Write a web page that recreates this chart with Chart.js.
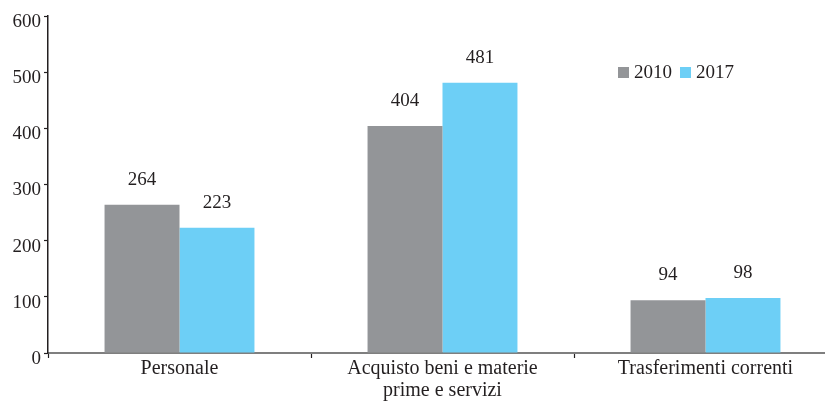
<!DOCTYPE html>
<html>
<head>
<meta charset="utf-8">
<script src="https://cdn.jsdelivr.net/npm/chart.js@4.4.1/dist/chart.umd.min.js"></script>
<style>
  html, body { margin: 0; padding: 0; background: #fff; overflow: hidden; }
  #wrap { width: 840px; height: 401px; position: relative; }
</style>
</head>
<body>
<div id="wrap"><canvas id="spesaChart"></canvas></div>
<script>
const categories = ['Personale', ['Acquisto beni e materie', 'prime e servizi'], 'Trasferimenti correnti'];
const seriesNames = ['2010', '2017'];
const values2010 = [264, 404, 94];
const values2017 = [223, 481, 98];
const yTicks = [0, 100, 200, 300, 400, 500, 600];

const textColor = '#231f20';
const fontFamily = '"Liberation Serif", "Times New Roman", serif';

// value printed over every bar
const barValues = {
    id: 'barValues',
    afterDatasetsDraw(chart) {
        const ctx = chart.ctx;
        ctx.save();
        ctx.font = '19px ' + fontFamily;
        ctx.fillStyle = textColor;
        ctx.textAlign = 'center';
        ctx.textBaseline = 'alphabetic';
        chart.data.datasets.forEach((ds, i) => {
            chart.getDatasetMeta(i).data.forEach((bar, j) => {
                ctx.fillText(String(ds.data[j]), bar.x, bar.y - 20);
            });
        });
        ctx.restore();
    }
};

// y labels sit a little below their tick marks
const yLabels = {
    id: 'yLabels',
    afterDraw(chart) {
        const ctx = chart.ctx;
        const y = chart.scales.y;
        ctx.save();
        ctx.font = '19px ' + fontFamily;
        ctx.fillStyle = textColor;
        ctx.textAlign = 'right';
        ctx.textBaseline = 'middle';
        y.ticks.forEach(t => {
            ctx.fillText(String(t.value), y.right - 7, y.getPixelForValue(t.value) + 6);
        });
        ctx.restore();
    }
};

// small legend sitting inside the plot, upper right
const innerLegend = {
    id: 'innerLegend',
    afterDraw(chart) {
        const ctx = chart.ctx;
        ctx.save();
        ctx.font = '19px ' + fontFamily;
        ctx.textBaseline = 'middle';
        ctx.textAlign = 'left';
        let x = 618;
        const y = 73;
        chart.data.datasets.forEach(ds => {
            ctx.fillStyle = ds.backgroundColor;
            ctx.fillRect(x, y - 6, 11, 11);
            ctx.fillStyle = textColor;
            ctx.fillText(ds.label, x + 16, y);
            x += 16 + ctx.measureText(ds.label).width + 8;
        });
        ctx.restore();
    }
};

new Chart(document.getElementById('spesaChart'), {
    type: 'bar',
    data: {
        labels: categories,
        datasets: [
            { label: seriesNames[0], data: values2010, backgroundColor: '#939598' },
            { label: seriesNames[1], data: values2017, backgroundColor: '#6dcff6' }
        ]
    },
    options: {
        responsive: true,
        maintainAspectRatio: false,
        animation: false,
        layout: { padding: { top: 16, right: 3, left: 0, bottom: 0 } },
        datasets: {
            bar: { barPercentage: 1, categoryPercentage: 0.57, borderWidth: 0 }
        },
        scales: {
            x: {
                grid: {
                    drawOnChartArea: false,
                    drawTicks: true,
                    tickLength: 5,
                    tickColor: '#231f20',
                    tickWidth: 1.2
                },
                border: { color: '#7f7f7f', width: 2 },
                ticks: {
                    color: textColor,
                    padding: 0,
                    maxRotation: 0,
                    autoSkip: false,
                    font: { family: fontFamily, size: 20, lineHeight: 1.1 }
                },
                afterFit(scale) { scale.height = 48; }
            },
            y: {
                min: 0,
                max: 600,
                afterBuildTicks(scale) { scale.ticks = yTicks.map(v => ({ value: v })); },
                grid: {
                    drawOnChartArea: false,
                    drawTicks: true,
                    tickLength: 4,
                    tickColor: '#231f20',
                    tickWidth: 1.2
                },
                border: { color: '#231f20', width: 1.5 },
                ticks: {
                    color: 'rgba(0,0,0,0)',
                    padding: 3,
                    font: { family: fontFamily, size: 19 }
                },
                afterFit(scale) { scale.width = 48; }
            }
        },
        plugins: {
            legend: { display: false },
            tooltip: { enabled: false }
        }
    },
    plugins: [barValues, yLabels, innerLegend]
});
</script>
</body>
</html>
